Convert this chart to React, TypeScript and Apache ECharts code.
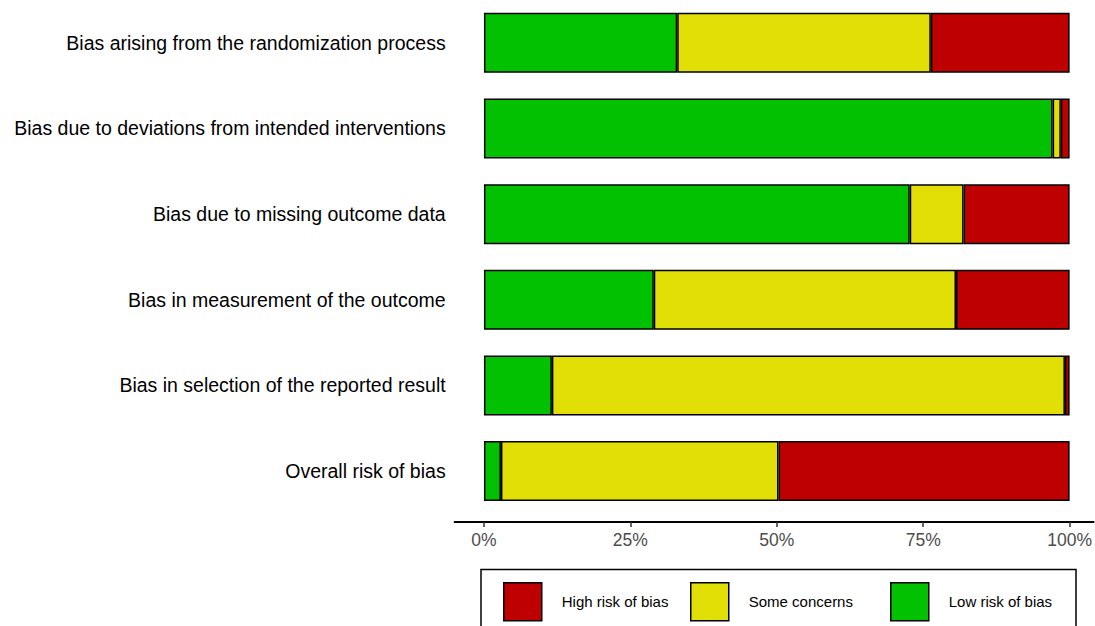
import React, { useEffect, useRef } from "react";
import * as echarts from "echarts";

const categories = [
  "Bias arising from the randomization process",
  "Bias due to deviations from intended interventions",
  "Bias due to missing outcome data",
  "Bias in measurement of the outcome",
  "Bias in selection of the reported result",
  "Overall risk of bias",
];
const lowRisk = [33.0, 97.1, 72.7, 29.0, 11.6, 2.9];
const someConcerns = [43.3, 1.4, 9.2, 51.6, 87.6, 47.4];
const highRisk = [23.7, 1.5, 18.1, 19.4, 0.8, 49.7];
const tickValues = [0, 25, 50, 75, 100];
const seriesNames = ["Low risk of bias", "Some concerns", "High risk of bias"];
const colors = ["#02C100", "#E2DF07", "#BF0000"];

export default function App() {
  const ref = useRef<HTMLDivElement>(null);
  useEffect(() => {
    if (!ref.current) return;
    const chart = echarts.init(ref.current, null, { renderer: "svg" });
    const dataSets = [lowRisk, someConcerns, highRisk];
    const font = "'Liberation Sans', Arial, sans-serif";
    const legendPos = [
      { name: "High risk of bias", left: 503 },
      { name: "Some concerns", left: 690 },
      { name: "Low risk of bias", left: 890 },
    ];
    chart.setOption({
      animation: false,
      backgroundColor: "#ffffff",
      textStyle: { fontFamily: font },
      grid: { left: 454.65, right: 0, top: -0.9, height: 514.8 },
      xAxis: {
        type: "value",
        min: -5,
        max: 104.09,
        offset: 8,
        splitLine: { show: false },
        axisLine: { show: true, lineStyle: { color: "#000", width: 2 } },
        axisTick: {
          show: true,
          length: 5,
          customValues: tickValues,
          lineStyle: { color: "#333", width: 1.5 },
        },
        axisLabel: {
          customValues: tickValues,
          formatter: (v: number) => v + "%",
          color: "#4D4D4D",
          fontSize: 17.5,
          fontFamily: font,
          margin: 9,
        },
      },
      yAxis: {
        type: "category",
        data: categories,
        inverse: true,
        axisLine: { show: false },
        axisTick: { show: false },
        axisLabel: { color: "#000", fontSize: 19.5, fontFamily: font, margin: 9 },
      },
      legend: legendPos.map((l) => ({
        data: [l.name],
        left: l.left,
        top: 582,
        itemWidth: 38,
        itemHeight: 38,
        padding: 0,
        itemGap: 0,
        icon: "rect",
        itemStyle: { borderColor: "#000", borderWidth: 1.5 },
        textStyle: { color: "#000", fontSize: 15, fontFamily: font, padding: [0, 0, 0, 15] },
        selectedMode: false,
      })),
      graphic: [
        {
          type: "rect",
          shape: { x: 481, y: 569.5, width: 595, height: 80 },
          style: { fill: "none", stroke: "#000", lineWidth: 1.5 },
          silent: true,
        },
      ],
      series: seriesNames.map((name, i) => ({
        name,
        type: "bar",
        stack: "total",
        barWidth: 60,
        data: dataSets[i],
        itemStyle: { color: colors[i], borderColor: "#000", borderWidth: 1.5 },
        emphasis: { disabled: true },
      })),
    });
    return () => chart.dispose();
  }, []);
  return (
    <div
      ref={ref}
      style={{ position: "absolute", left: 0, top: 0, width: 1095, height: 626 }}
    />
  );
}
